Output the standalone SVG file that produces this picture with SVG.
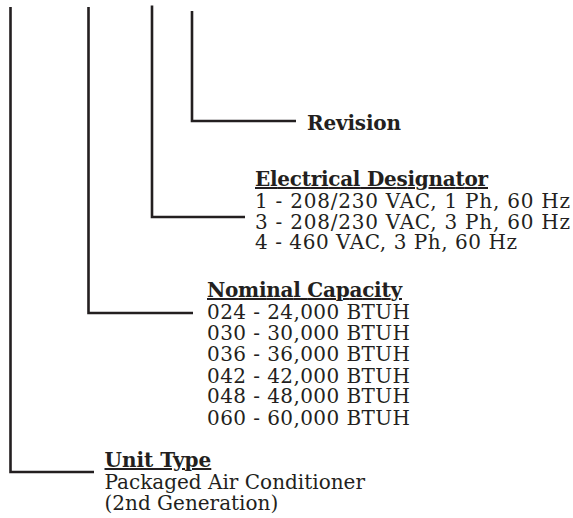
<svg xmlns="http://www.w3.org/2000/svg" width="573" height="518" viewBox="0 0 573 518">
<style>
.t{font-family:"DejaVu Serif","Liberation Serif",serif;font-size:20px;fill:#231f20}
.b{font-weight:bold;text-decoration:underline}
.c{fill:none;stroke:#231f20;stroke-width:2.6}
</style>
<rect width="573" height="518" fill="#fff"/>
<g id="connectors">
<polyline class="c" points="10.5,7 10.5,472 94,472"/>
<polyline class="c" points="88.5,7 88.5,313 193,313"/>
<polyline class="c" points="152,5.5 152,217 245,217"/>
<polyline class="c" points="192,11 192,121 296,121"/>
</g>
<g id="revision">
<text class="t" x="307" y="130" font-weight="bold" textLength="94" lengthAdjust="spacing">Revision</text>
</g>
<g id="electrical">
<text class="t b" x="255" y="186" textLength="233" lengthAdjust="spacing">Electrical Designator</text>
<text class="t" x="255" y="207.5" textLength="315" lengthAdjust="spacing">1 - 208/230 VAC, 1 Ph, 60 Hz</text>
<text class="t" x="255" y="228.5" textLength="315" lengthAdjust="spacing">3 - 208/230 VAC, 3 Ph, 60 Hz</text>
<text class="t" x="255" y="249.3" textLength="262" lengthAdjust="spacing">4 - 460 VAC, 3 Ph, 60 Hz</text>
</g>
<g id="capacity">
<text class="t b" x="207" y="297" textLength="195" lengthAdjust="spacing">Nominal Capacity</text>
<text class="t" x="207" y="319" textLength="203" lengthAdjust="spacing">024 - 24,000 BTUH</text>
<text class="t" x="207" y="340.2" textLength="203" lengthAdjust="spacing">030 - 30,000 BTUH</text>
<text class="t" x="207" y="361.4" textLength="203" lengthAdjust="spacing">036 - 36,000 BTUH</text>
<text class="t" x="207" y="382.6" textLength="203" lengthAdjust="spacing">042 - 42,000 BTUH</text>
<text class="t" x="207" y="403.4" textLength="203" lengthAdjust="spacing">048 - 48,000 BTUH</text>
<text class="t" x="207" y="424.6" textLength="203" lengthAdjust="spacing">060 - 60,000 BTUH</text>
</g>
<g id="unittype">
<text class="t b" x="104.5" y="467">Unit Type</text>
<text class="t" x="104.5" y="488.5">Packaged Air Conditioner</text>
<text class="t" x="104.5" y="509.5">(2nd Generation)</text>
</g>
</svg>
